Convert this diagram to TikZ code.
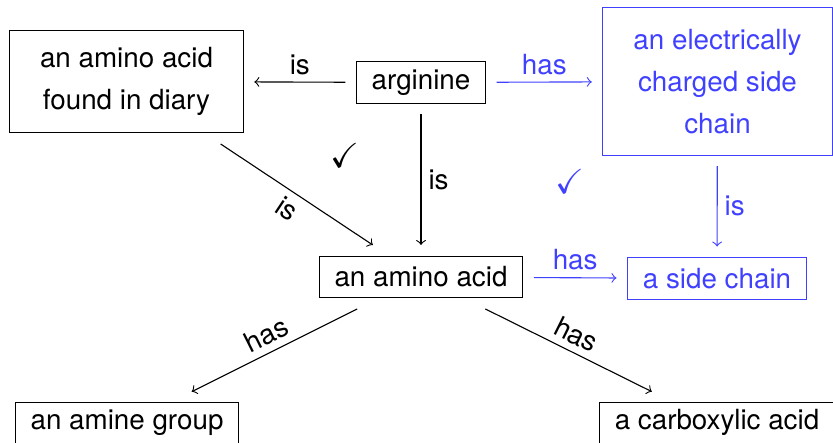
\documentclass[tikz,border=0pt]{standalone}
\usepackage{amssymb}
\usepackage{fontspec}
\setmainfont{TeX Gyre Heros}
\usetikzlibrary{positioning}

\tikzset{
  concept/.style={draw, font=\fontsize{10}{15}\selectfont, align=center,
    inner xsep=5.5pt, inner ysep=2pt, minimum height=15pt, outer sep=4pt},
  leaf/.style={concept, anchor=base, text height=7.8pt, text depth=3.5pt},
  link/.style={->, font=\fontsize{10}{12}\selectfont, every node/.style={inner sep=2.5pt}},
  newpart/.style={blue!75},
  tick/.style={font=\fontsize{12.5}{12.5}\selectfont}
}

\begin{document}
\begin{tikzpicture}[x=0.36pt, y=-0.36pt]
\useasboundingbox (0,0) rectangle (833,443);

%% concepts
\node[concept, minimum width=84pt, minimum height=37pt] (diary) at (126.5,81.5) {an amino acid\\found in diary};
\node[concept] (arg) at (421,82.5) {arginine};
\node[concept, newpart, minimum width=82.5pt, minimum height=53pt] (charged) at (717.5,81.5) {an electrically\\charged side\\chain};
\node[concept] (amino) at (421,277) {an amino acid};
\node[concept, newpart] (side) at (717,278.5) {a side chain};
\node[leaf] (amine) at (127,430) {an amine group};
\node[leaf] (carb) at (717,430) {a carboxylic acid};

%% links
\draw[link] (arg) -- (diary) node[midway, above] {is};
\draw[link, newpart] (arg) -- (charged) node[midway, above] {has};
\draw[link] (arg) -- (amino) node[midway, right] {is};
\draw[link] (diary) -- (amino) node[midway, below, sloped] {is};
\draw[link, newpart] (charged) -- (side) node[midway, right] {is};
\draw[link, newpart] (amino) -- (side) node[midway, above] {has};
\draw[link] (amino) -- (amine) node[midway, above, sloped] {has};
\draw[link] (amino) -- (carb) node[midway, above, sloped] {has};

% ticks
\node[tick] (tick1) at (345,155) {$\checkmark$};
\node[tick, newpart] (tick2) at (570,181) {$\checkmark$};

\end{tikzpicture}
\end{document}
